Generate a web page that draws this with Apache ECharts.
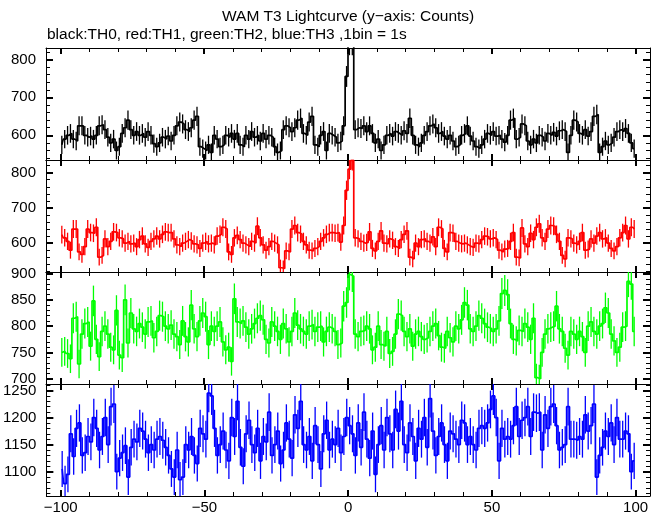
<!DOCTYPE html>
<html><head><meta charset="utf-8">
<script src="https://cdn.jsdelivr.net/npm/echarts@6/dist/echarts.min.js"></script>
<style>html,body{margin:0;padding:0;background:#fff}#c{width:662px;height:515px}</style>
</head><body><div id="c"></div>
<script>
// ---- data (counts per 1 s bin, bins centred at -99.5 ... 99.5) ----
const binCenters = [];
for (let i = 0; i < 200; i++) binCenters.push(i - 99.5);

const th0 = [
575,590,600,605,590,585,625,625,600,595,
598,590,600,625,628,615,595,580,590,560,
570,605,620,640,615,600,610,600,605,595,
610,600,578,570,580,595,590,598,585,600,
625,635,630,615,610,620,640,650,570,565,
560,575,555,600,590,570,575,600,595,605,
590,605,575,570,600,590,610,595,600,585,
605,590,600,595,570,555,560,615,625,620,
610,620,640,645,605,600,635,650,575,570,
600,610,560,605,600,595,580,585,625,755,
840,840,615,620,618,625,610,625,605,580,
590,560,575,600,605,598,610,605,600,612,
605,645,600,575,570,580,600,610,625,630,
620,605,610,598,590,600,585,570,575,600,
605,625,598,585,570,565,575,590,605,600,
610,598,600,590,582,600,640,645,590,595,
630,625,585,575,590,580,600,595,585,605,
600,608,598,612,615,610,555,600,640,635,
605,600,615,598,610,650,655,555,570,585,
575,580,595,610,615,610,618,605,580,565];

const th1 = [
624,615,605,580,640,640,575,568,590,640,
630,628,645,560,565,612,590,605,632,630,
615,612,600,605,598,600,590,610,620,598,
588,605,612,620,612,625,632,630,630,612,
595,590,600,605,610,606,598,595,585,600,
605,598,600,595,620,625,645,640,575,568,
615,622,610,600,595,590,605,600,648,615,
595,580,590,605,600,595,530,528,578,575,
640,650,630,625,605,595,580,578,585,590,
605,615,625,630,630,628,630,603,650,750,
810,835,615,612,605,600,602,632,585,578,
605,635,600,598,612,608,590,585,610,625,
635,560,555,600,590,610,612,605,600,618,
590,645,640,585,575,630,628,605,600,598,
600,595,590,588,600,598,610,620,618,612,
615,610,580,575,583,585,605,630,560,558,
643,598,590,628,610,645,655,615,605,640,
650,648,625,605,565,555,615,612,600,595,
605,630,580,583,612,600,620,630,612,615,
600,585,578,590,615,630,650,612,645,640];

const th2 = [
750,752,748,738,815,818,728,785,805,808,
762,848,775,742,790,800,785,760,755,830,
745,740,850,768,825,795,790,805,798,785,
808,810,778,790,820,818,800,795,802,785,
780,765,810,780,770,840,795,780,810,825,
818,765,800,790,800,808,770,755,760,733,
852,808,805,810,798,785,795,805,815,820,
812,775,768,808,800,790,775,805,795,770,
790,825,802,795,790,785,800,803,790,798,
800,770,790,798,795,790,765,768,838,845,
898,895,785,780,790,792,800,795,755,760,
800,765,762,790,748,752,785,823,820,790,
780,795,762,785,790,780,775,778,790,800,
805,782,760,758,790,778,770,800,795,812,
845,840,795,790,800,820,815,805,798,795,
790,795,810,862,868,860,805,775,772,792,
790,805,798,775,815,702,700,750,785,795,
798,800,838,795,790,758,745,790,785,775,
790,780,750,800,808,790,785,800,805,835,
825,785,772,750,760,798,800,885,880,790];

const th3 = [
1105,1078,1095,1170,1128,1180,1190,1130,1135,1165,
1155,1200,1180,1140,1165,1200,1150,1220,1225,1100,
1125,1135,1148,1090,1145,1160,1155,1180,1175,1160,
1135,1150,1140,1160,1165,1158,1145,1130,1105,1090,
1140,1085,1090,1150,1140,1165,1130,1115,1180,1170,
1160,1245,1240,1180,1130,1150,1175,1140,1120,1200,
1165,1230,1145,1110,1170,1195,1150,1135,1180,1120,
1165,1155,1210,1130,1150,1175,1115,1140,1190,1160,
1125,1205,1180,1230,1150,1140,1165,1120,1185,1150,
1105,1170,1195,1140,1160,1150,1180,1135,1165,1200,
1185,1170,1130,1190,1145,1210,1160,1125,1175,1095,
1150,1185,1140,1200,1170,1140,1215,1175,1230,1150,
1135,1190,1165,1120,1180,1160,1200,1145,1235,1175,
1130,1165,1190,1150,1120,1175,1170,1160,1150,1195,
1190,1150,1165,1150,1140,1180,1185,1180,1190,1215,
1240,1200,1120,1180,1160,1165,1160,1185,1220,1165,
1195,1200,1220,1165,1210,1208,1210,1140,1205,1180,
1220,1225,1185,1140,1145,1150,1220,1160,1160,1158,
1165,1160,1205,1175,1185,1225,1090,1130,1145,1175,
1165,1190,1150,1200,1160,1160,1175,1170,1100,1120];

// tick values
const xMajorTicks = [-100, -50, 0, 50, 100];
const xMinorTicks = [-100,-90,-80,-70,-60,-50,-40,-30,-20,-10,0,10,20,30,40,50,60,70,80,90,100];
const yMajor0 = [600, 700, 800];
const yMinor0 = [540,560,580,600,620,640,660,680,700,720,740,760,780,800,820];
const yMajor1 = [600, 700, 800];
const yMinor1 = [520,540,560,580,600,620,640,660,680,700,720,740,760,780,800,820];
const yMajor2 = [700, 750, 800, 850, 900];
const yMinor2 = [690,700,710,720,730,740,750,760,770,780,790,800,810,820,830,840,850,860,870,880,890,900];
const yMajor3 = [1100, 1150, 1200, 1250];
const yMinor3 = [1060,1070,1080,1090,1100,1110,1120,1130,1140,1150,1160,1170,1180,1190,1200,1210,1220,1230,1240,1250,1260];

const titleText = 'WAM T3 Lightcurve (y\u2212axis: Counts)';
const subText = 'black:TH0, red:TH1, green:TH2, blue:TH3 ,1bin = 1s';

// ---- chart ----
const FONT = '"Liberation Sans", Arial, sans-serif';
const fmt = v => (v < 0 ? '\u2212' + String(-v) : String(v));
const panels = [
  {vals: th0, color: '#000000', min: 535, max: 830, major: yMajor0, minor: yMinor0},
  {vals: th1, color: '#ff0000', min: 518, max: 836, major: yMajor1, minor: yMinor1},
  {vals: th2, color: '#00ff00', min: 690, max: 903, major: yMajor2, minor: yMinor2},
  {vals: th3, color: '#0000ff', min: 1055, max: 1262, major: yMajor3, minor: yMinor3}
];
const gridTops = [48, 160, 272, 384];
const grids = [], xAxes = [], yAxes = [], series = [];
panels.forEach((p, k) => {
  grids.push({left: 46, right: 12, top: gridTops[k], height: 112, containLabel: false});
  const lineStyle = {color: '#000', width: 1};
  const mkX = (pos, major, showLine, showLabel) => ({
    type: 'value', gridIndex: k, position: pos, min: -105, max: 105,
    axisLine: {show: showLine, onZero: false, lineStyle},
    axisTick: {show: true, inside: true, customValues: major ? xMajorTicks : xMinorTicks,
               length: major ? 6 : 4, lineStyle: {color: '#000', width: major ? 2 : 1}},
    axisLabel: {show: showLabel, customValues: xMajorTicks, formatter: fmt, color: '#000',
                fontSize: 15, fontFamily: FONT, margin: 4},
    splitLine: {show: false}
  });
  xAxes.push(mkX('bottom', true, true, k === 3));
  xAxes.push(mkX('bottom', false, false, false));
  xAxes.push(mkX('top', true, true, false));
  xAxes.push(mkX('top', false, false, false));
  const mkY = (pos, major, showLine, showLabel) => ({
    type: 'value', gridIndex: k, position: pos, min: p.min, max: p.max,
    axisLine: {show: showLine, onZero: false, lineStyle},
    axisTick: {show: true, inside: true, customValues: major ? p.major : p.minor,
               length: major ? 7 : 4, lineStyle: {color: '#000', width: major ? 2 : 1}},
    axisLabel: {show: showLabel, customValues: p.major, formatter: fmt, color: '#000', fontSize: 15,
                fontFamily: FONT, margin: 10, showMinLabel: true, showMaxLabel: true},
    splitLine: {show: false}
  });
  yAxes.push(mkY('left', true, true, true));
  yAxes.push(mkY('left', false, false, false));
  yAxes.push(mkY('right', true, true, false));
  yAxes.push(mkY('right', false, false, false));

  const pts = p.vals.map((v, i) => [binCenters[i], v]);
  const errPts = p.vals.map((v, i) => [binCenters[i], v, Math.sqrt(v)]);
  series.push({
    type: 'line', xAxisIndex: 4 * k, yAxisIndex: 4 * k, data: pts, step: 'middle',
    showSymbol: false, symbol: 'none', clip: true, silent: true,
    lineStyle: {color: p.color, width: 1.7}, z: 3
  });
  series.push({
    type: 'custom', xAxisIndex: 4 * k, yAxisIndex: 4 * k, data: errPts, clip: true, silent: true,
    encode: {x: 0, y: 1}, z: 2,
    renderItem: (params, api) => {
      const x = api.value(0), y = api.value(1), e = api.value(2);
      const a = api.coord([x, y - e]), b = api.coord([x, y + e]);
      return {type: 'line', shape: {x1: a[0], y1: a[1], x2: b[0], y2: b[1]},
              style: {stroke: p.color, lineWidth: 1.3}};
    }
  });
});

const chart = echarts.init(document.getElementById('c'), null, {renderer: 'canvas'});
chart.setOption({
  animation: false,
  backgroundColor: '#ffffff',
  title: [
    {text: titleText, left: 222, top: 9, textStyle: {fontSize: 15.5, fontWeight: 'normal', color: '#000', fontFamily: FONT}, padding: 0},
    {text: subText, left: 47, top: 27, textStyle: {fontSize: 15.5, fontWeight: 'normal', color: '#000', fontFamily: FONT}, padding: 0}
  ],
  grid: grids, xAxis: xAxes, yAxis: yAxes, series: series
});
</script>
</body></html>
